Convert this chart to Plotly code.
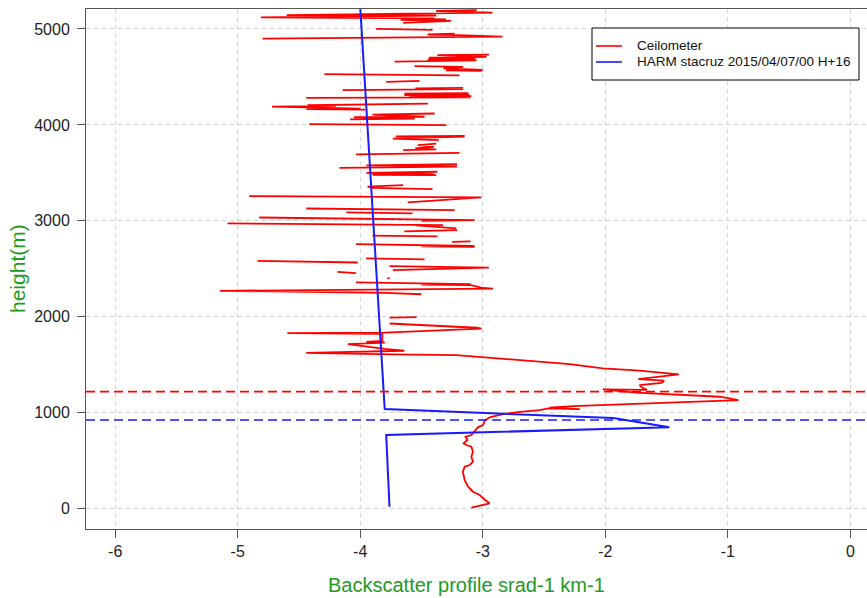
import plotly.graph_objects as go

# Ceilometer backscatter profile (log10 of srad-1 km-1) against height in m.
# Lower, continuous part of the profile (surface up to ~1900 m).
ceil_h_low = [10, 49, 56, 91, 143, 177, 229, 299, 385, 437,
              455, 490, 542, 594, 646, 664, 681, 716, 750, 768,
              813, 848, 872, 917, 952, 986, 1010, 1028, 1045, 1038,
              1052, 1070, 1098, 1120, 1132, 1167, 1191, 1210, 1243, 1238,
              1262, 1288, 1312, 1334, 1350, 1370, 1400, 1440, 1462, 1507,
              1531, 1566, 1601, 1608, 1625, 1646, 1665, 1715, 1730, 1738,
              1750, 1822, 1830, 1836, 1876, 1886, 1930, None]
ceil_x_low = [-3.093, -2.97, -2.944, -2.98, -3.025, -3.08, -3.12, -3.148, -3.162, -3.148,
              -3.107, -3.08, -3.093, -3.08, -3.093, -3.134, -3.156, -3.125, -3.14, -3.093,
              -3.066, -3.039, -2.998, -2.984, -2.944, -2.835, -2.698, -2.535, -2.466, -2.208,
              -2.453, -2.262, -1.717, -1.30, -0.913, -1.063, -1.445, -1.75, -2.02, -1.66,
              -1.70, -1.72, -1.54, -1.52, -1.73, -1.60, -1.40, -1.72, -2.02, -2.29,
              -2.535, -2.862, -3.216, -3.734, -4.44, -3.64, -3.80, -4.10, -3.80, -3.95,
              -3.82, -3.82, -4.595, -3.80, -3.01, -3.05, -3.76, None]

# Upper, noisy part of the profile; None marks missing range gates.
ceil_h_high = [
    1992, 2000, 1997, None,
    2235, 2250, 2271, 2293, 2300, 2330, 2335, 2340, 2358, None,
    2400, 2404, None,
    2455, 2469, None,
    2487, 2504, 2512, 2528, None,
    2566, 2583, None,
    2598, 2608, None,
    2730, 2733, 2738, 2757, None,
    2781, 2786, None,
    2838, 2846, None,
    2890, 2895, 2899, 2903, None,
    2922, 2952, None,
    2955, 2973, None,
    3000, 3007, 3035, None,
    3077, 3088, None,
    3112, 3129, None,
    3192, 3244, 3257, None,
    3330, 3344, 3356, 3372, None,
    3476, 3480, 3487, 3500, 3512, None,
    3552, 3565, 3578, 3590, None,
    3692, 3708, None,
    3737, 3745, 3756, 3770, 3790, 3805, None,
    3841, 3858, 3878, 3880, 3886, None,
    3997, 4008, None,
    4057, 4067, 4080, 4085, 4108, 4119, None,
    4160, 4164, 4170, 4190, 4198, 4205, 4222, None,
    4281, 4286, 4292, 4300, 4310, 4318, 4326, 4330, None,
    4362, 4372, 4380, 4386, None,
    4448, 4459, None,
    4517, 4529, None,
    4562, 4568, 4572, 4590, 4604, 4612, None,
    4660, 4672, 4680, 4690, 4700, 4710, 4728, 4733, None,
    4900, 4920, 4935, 4942, 4952, None,
    4990, 5000, None,
    5063, 5085, 5095, 5100, 5106, 5108, None,
    5110, 5120, 5140, 5145, 5170, 5187, 5195,
]
ceil_x_high = [
    -3.76, -3.60, -3.54, None,
    -3.50, -3.80, -5.146, -2.916, -3.00, -3.093, -3.50, -3.10, -4.034, None,
    -3.78, -3.76, None,
    -4.034, -4.186, None,
    -3.734, -2.99, -2.95, -3.761, None,
    -4.02, -4.838, None,
    -3.475, -3.952, None,
    -3.066, -3.50, -3.07, -4.034, None,
    -3.25, -3.10, None,
    -3.37, -3.90, None,
    -3.64, -3.23, -3.42, -3.21, None,
    -3.216, -3.543, None,
    -3.325, -5.083, None,
    -3.50, -3.066, -4.824, None,
    -3.573, -4.113, None,
    -3.23, -4.44, None,
    -3.612, -3.01, -4.906, None,
    -3.41, -3.90, -3.94, -3.65, None,
    -3.38, -3.90, -3.40, -3.95, -3.37, None,
    -4.17, -3.21, -3.95, -3.21, None,
    -4.034, -3.19, None,
    -3.65, -3.38, -3.55, -3.40, -3.53, -3.38, None,
    -3.36, -3.734, -3.148, -3.71, -3.148, None,
    -3.298, -4.415, None,
    -4.083, -3.556, -4.05, -3.475, -3.90, -3.393, None,
    -3.96, -4.44, -4.0, -4.72, -4.20, -4.43, -3.448, None,
    -4.44, -3.10, -3.60, -3.093, -3.64, -3.11, -3.64, -3.12, None,
    -4.143, -3.16, -3.55, -3.16, None,
    -3.788, -3.516, None,
    -3.19, -4.293, None,
    -3.01, -3.30, -3.00, -3.32, -3.16, -3.557, None,
    -3.72, -3.05, -3.45, -3.06, -3.44, -2.97, -3.37, -2.95, None,
    -4.797, -2.84, -3.20, -3.45, -3.23, None,
    -3.41, -3.87, None,
    -3.65, -3.26, -3.67, -3.30, -3.56, -3.66, None,
    -3.40, -4.81, -3.38, -4.60, -2.92, -3.38, -3.05,
]

# HARM model profile at stacruz
harm_h = [21, 768, 850, 945, 1039, 5230]
harm_x = [-3.761, -3.788, -1.477, -1.935, -3.80, -4.00]

# Boundary-layer heights (m): ceilometer and model
ceil_pbl = 1220
harm_pbl = 924

x_ticks = [-6, -5, -4, -3, -2, -1, 0]
y_ticks = [0, 1000, 2000, 3000, 4000, 5000]

series_names = ["Ceilometer", "HARM stacruz 2015/04/07/00 H+16"]
series_colors = ["#ff0000", "#1a1aff"]

ceil_h = ceil_h_low + ceil_h_high
ceil_x = ceil_x_low + ceil_x_high

FONT = "Liberation Sans, Arial, Helvetica, sans-serif"
GREEN = "#229a22"
AXIS = "#555555"

# plot-area geometry in pixels, used to place the boxed key
W, H = 867, 598
ML, MR, MT, MB = 86, 0, 9, 69
PW, PH = W - ML - MR, H - MT - MB


def px(x):
    return (x - ML) / PW


def py(y):
    return (H - MB - y) / PH


fig = go.Figure()
fig.add_trace(go.Scatter(x=ceil_x, y=ceil_h, mode="lines", name=series_names[0],
                         line=dict(color=series_colors[0], width=1.8),
                         connectgaps=False, showlegend=False))
fig.add_trace(go.Scatter(x=harm_x, y=harm_h, mode="lines", name=series_names[1],
                         line=dict(color=series_colors[1], width=2), showlegend=False))

for h, c in ((ceil_pbl, series_colors[0]), (harm_pbl, series_colors[1])):
    fig.add_shape(type="line", xref="paper", x0=0, x1=1, yref="y", y0=h, y1=h,
                  line=dict(color=c, width=1.6, dash="9px,5px"))

# boxed key in the upper right
fig.add_shape(type="rect", xref="paper", yref="paper",
              x0=px(592), x1=px(859), y0=py(80), y1=py(28),
              line=dict(color="black", width=1), fillcolor="white", layer="above")
for i, (name, col) in enumerate(zip(series_names, series_colors)):
    yy = 46 + 16 * i
    fig.add_shape(type="line", xref="paper", yref="paper",
                  x0=px(596), x1=px(622), y0=py(yy), y1=py(yy),
                  line=dict(color=col, width=1.6), layer="above")
    fig.add_annotation(text=name, xref="paper", yref="paper", x=px(635), y=py(yy),
                       xanchor="left", yanchor="middle", showarrow=False,
                       font=dict(size=13.5, color="#111111", family=FONT))

axis_common = dict(showline=True, linecolor=AXIS, linewidth=1, ticks="outside",
                   ticklen=8, tickcolor=AXIS, tickwidth=1, showgrid=True,
                   gridcolor="#d4d4d4", gridwidth=1, griddash="4px,4px",
                   zeroline=False, tickfont=dict(size=16, color="#222222"))

fig.update_xaxes(range=[-6.238, 0.136], tickvals=x_ticks,
                 ticktext=[str(v) for v in x_ticks], mirror=True, **axis_common)
fig.update_yaxes(range=[-211.6, 5208], tickvals=y_ticks,
                 ticktext=[str(v) for v in y_ticks], ticklabelstandoff=4, **axis_common)

fig.add_annotation(text="Backscatter profile srad-1 km-1", xref="paper", yref="paper",
                   x=px(466), y=py(585), xanchor="center", yanchor="middle", showarrow=False,
                   font=dict(size=20, color=GREEN, family=FONT))
fig.add_annotation(text="height(m)", xref="paper", yref="paper",
                   x=px(17), y=py(269), xanchor="center", yanchor="middle", showarrow=False,
                   textangle=-90, font=dict(size=21, color=GREEN, family=FONT))

fig.update_layout(
    width=W, height=H,
    margin=dict(l=ML, r=MR, t=MT, b=MB),
    plot_bgcolor="white", paper_bgcolor="white",
    font=dict(family=FONT, color="#222222"),
    showlegend=False,
)

fig.write_html("out.html")
